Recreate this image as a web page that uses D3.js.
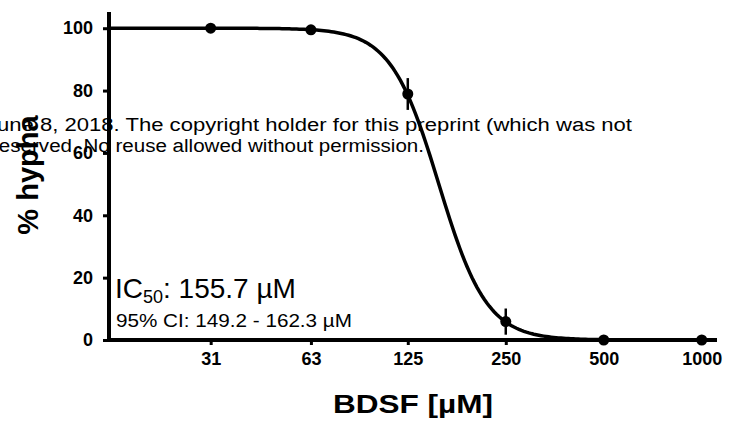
<!DOCTYPE html>
<html>
<head>
<meta charset="utf-8">
<script src="https://cdn.jsdelivr.net/npm/d3@7"></script>
<style>
  body { margin: 0; background: #fff; overflow: hidden; }
  svg { font-family: "Liberation Sans", Arial, sans-serif; display: block; }
</style>
</head>
<body>
<div id="chart"></div>
<script>
//data
var concs = [31, 63, 125, 250, 500, 1000],
    xTickLabels = ['31', '63', '125', '250', '500', '1000'],
    hyphaMean = [100, 99.5, 78.9, 5.9, 0, 0],
    hyphaErr = [0, 0, 5.1, 4.2, 0, 0],
    yTicks = [0, 20, 40, 60, 80, 100];

//fit
var ic50 = 155.7,
    hill = 5.9,
    fitTop = 100,
    fitBottom = 0;

//sizes
var outerW = 729,
    outerH = 421,
    axisLeft = 109,
    axisRight = 717,
    axisBottom = 340,
    axisTop = 12;

var svg = d3.select('#chart').append('svg')
    .attr('width', outerW)
    .attr('height', outerH);

//scales
var xScale = d3.scaleLog().base(2)
    .domain([15.1, 1114])
    .range([axisLeft, axisRight]);

var yScale = d3.scaleLinear()
    .domain([0, 105.2])
    .range([axisBottom, axisTop]);

//stretch a text to a given width
function fitText(sel, len) {
    sel.attr('textLength', len).attr('lengthAdjust', 'spacingAndGlyphs');
}

//watermark behind everything
var wm = svg.append('g')
    .attr('font-size', 18)
    .attr('fill', '#000');
wm.append('text').attr('x', -14).attr('y', 131)
    .text('June 8, 2018. The copyright holder for this preprint (which was not')
    .call(fitText, 646);
wm.append('text').attr('x', -8).attr('y', 152)
    .text('reserved. No reuse allowed without permission.')
    .call(fitText, 432);

//axes
var xAxis = d3.axisBottom(xScale)
    .tickValues(concs)
    .tickSize(4)
    .tickPadding(8)
    .tickFormat(function(d, i) { return xTickLabels[i]; });

var yAxis = d3.axisLeft(yScale)
    .tickValues(yTicks)
    .tickSize(6)
    .tickPadding(10);

var xAxisG = svg.append('g')
    .attr('transform', 'translate(0,' + axisBottom + ')')
    .call(xAxis);

var yAxisG = svg.append('g')
    .attr('transform', 'translate(' + axisLeft + ',0)')
    .call(yAxis);

[xAxisG, yAxisG].forEach(function(g) {
    g.select('.domain').attr('stroke-width', 4).attr('stroke', '#000');
    g.selectAll('.tick line').attr('stroke-width', 3).attr('stroke', '#000');
    g.selectAll('.tick text')
        .attr('font-family', '"Liberation Sans", Arial, sans-serif')
        .attr('font-size', 18)
        .attr('font-weight', 'bold')
        .attr('fill', '#000');
});
yAxisG.select('.domain').attr('d', 'M0,' + axisTop + 'V' + (axisBottom + 2));
xAxisG.select('.domain').attr('d', 'M' + (axisLeft - 2) + ',0H' + axisRight);
xAxisG.selectAll('.tick line').attr('y1', 2).attr('y2', 5);

//fitted curve
var logMin = Math.log2(xScale.domain()[0]),
    logMax = Math.log2(1000);
var curveData = d3.range(0, 241).map(function(i) {
    var c = Math.pow(2, logMin + i / 240 * (logMax - logMin));
    return [c, fitBottom + (fitTop - fitBottom) / (1 + Math.pow(c / ic50, hill))];
});

svg.append('path')
    .datum(curveData)
    .attr('fill', 'none')
    .attr('stroke', '#000')
    .attr('stroke-width', 3.5)
    .attr('d', d3.line()
        .x(function(d) { return xScale(d[0]); })
        .y(function(d) { return yScale(d[1]); }));

//error bars
svg.selectAll('.err')
    .data(concs.filter(function(d, i) { return hyphaErr[i] > 0; }))
    .enter().append('line')
    .attr('class', 'err')
    .attr('x1', function(d) { return xScale(d); })
    .attr('x2', function(d) { return xScale(d); })
    .attr('y1', function(d) { var i = concs.indexOf(d); return yScale(hyphaMean[i] + hyphaErr[i]); })
    .attr('y2', function(d) { var i = concs.indexOf(d); return yScale(hyphaMean[i] - hyphaErr[i]); })
    .attr('stroke', '#000')
    .attr('stroke-width', 2.5);

//points
svg.selectAll('.pt')
    .data(concs)
    .enter().append('circle')
    .attr('class', 'pt')
    .attr('cx', function(d) { return xScale(d); })
    .attr('cy', function(d, i) { return yScale(hyphaMean[i]); })
    .attr('r', 5.5)
    .attr('fill', '#000');

//ic50 label
var ic = svg.append('text')
    .attr('x', 115)
    .attr('y', 298)
    .attr('font-size', 28)
    .attr('fill', '#000');
ic.append('tspan').text('IC');
ic.append('tspan').attr('font-size', 18).attr('dy', 5).text('50');
ic.append('tspan').attr('dy', -5).text(': 155.7 µM');

svg.append('text')
    .attr('x', 116)
    .attr('y', 327)
    .attr('font-size', 19)
    .attr('fill', '#000')
    .text('95% CI: 149.2 - 162.3 µM')
    .call(fitText, 236);

//axis titles
svg.append('text')
    .attr('x', 333)
    .attr('y', 413)
    .attr('font-size', 26)
    .attr('font-weight', 'bold')
    .attr('fill', '#000')
    .text('BDSF [µM]')
    .call(fitText, 160);

svg.append('text')
    .attr('transform', 'translate(38,175) rotate(-90)')
    .attr('text-anchor', 'middle')
    .attr('font-size', 29)
    .attr('font-weight', 'bold')
    .attr('fill', '#000')
    .text('% hypha');
</script>
</body>
</html>
